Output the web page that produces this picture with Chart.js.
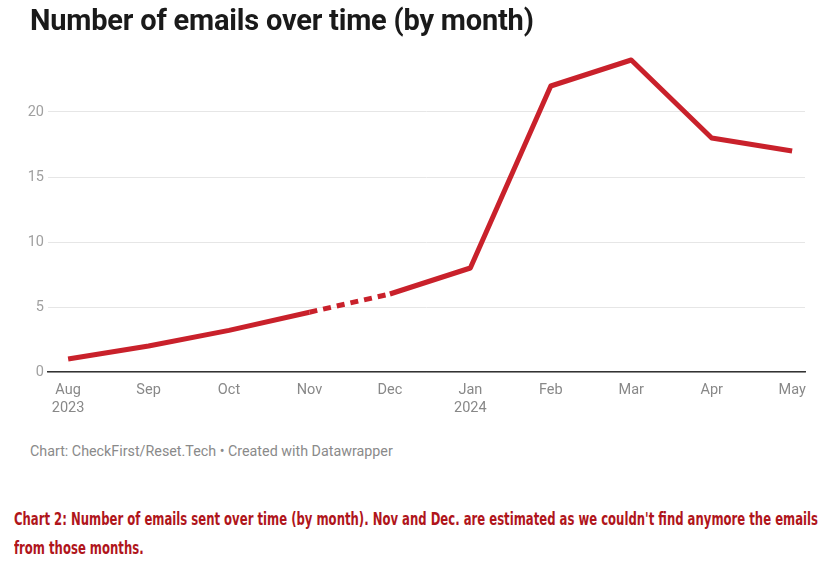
<!DOCTYPE html>
<html>
<head>
<meta charset="utf-8">
<script src="https://cdn.jsdelivr.net/npm/chart.js@4"></script>
<style>
  html, body { margin: 0; padding: 0; background: #fff; }
  body { width: 835px; height: 574px; position: relative; overflow: hidden; font-family: Roboto, "Noto Sans", sans-serif; }
  #title { position: absolute; left: 30px; top: 3px; font-size: 29px; font-weight: 700; color: #1a1a1a; white-space: nowrap; letter-spacing: -0.2px; }
  #wrap { position: absolute; left: 0; top: 0; width: 835px; height: 430px; }
  #credit { position: absolute; left: 30px; top: 443px; font-size: 14.3px; color: #8a8a8a; white-space: nowrap; }
  #caption { position: absolute; left: 14px; top: 504px; font-family: "DejaVu Sans Condensed", "Liberation Sans Narrow", sans-serif; font-weight: 700; font-size: 18px; line-height: 29px; color: #b0151b; transform-origin: 0 0; white-space: nowrap; }
  #caption span { display: block; }
</style>
</head>
<body>
<div id="wrap"><canvas id="c"></canvas></div>
<div id="title">Number of emails over time (by month)</div>
<div id="credit">Chart: CheckFirst/Reset.Tech • Created with Datawrapper</div>
<div id="caption"><span id="cap1">Chart 2: Number of emails sent over time (by month). Nov and Dec. are estimated as we couldn't find anymore the emails</span><span>from those months.</span></div>
<script>
const months = ['Aug', 'Sep', 'Oct', 'Nov', 'Dec', 'Jan', 'Feb', 'Mar', 'Apr', 'May'];
const yearLabels = ['2023', '', '', '', '', '2024', '', '', '', ''];
const emails = [1, 2, 3.2, 4.6, 6, 8, 22, 24, 18, 17];
const estimatedSegmentStart = 3; // Nov -> Dec segment is estimated
const yTicks = [0, 5, 10, 15, 20];

// fit caption first line to the reference width
(function () {
  const cap1 = document.getElementById('cap1');
  const w = cap1.getBoundingClientRect().width;
  const target = 804;
  document.getElementById('caption').style.transform = 'scaleX(' + (target / w) + ')';
})();

const points = emails.map((v, i) => ({ x: i, y: v }));

new Chart(document.getElementById('c'), {
  type: 'line',
  data: {
    datasets: [{
      data: points,
      borderColor: '#c9212b',
      borderWidth: 5,
      pointRadius: 0,
      tension: 0,
      fill: false,
      borderJoinStyle: 'round',
      segment: {
        borderDash: ctx => ctx.p0DataIndex === estimatedSegmentStart ? [8, 6] : undefined
      }
    }]
  },
  options: {
    responsive: true,
    maintainAspectRatio: false,
    animation: false,
    layout: { padding: { top: 47, right: 30, left: 0, bottom: 0 } },
    plugins: { legend: { display: false }, tooltip: { enabled: false }, title: { display: false } },
    scales: {
      x: {
        type: 'linear',
        min: -0.25,
        max: 9.16,
        afterBuildTicks: s => { s.ticks = months.map((m, i) => ({ value: i })); },
        afterFit: s => { s.height = 58; },
        ticks: {
          autoSkip: false,
          maxRotation: 0,
          padding: 10,
          color: '#888',
          font: { family: 'Roboto', size: 14.5 },
          callback: (v) => yearLabels[v] ? [months[v], yearLabels[v]] : months[v]
        },
        grid: { display: false, drawTicks: false },
        border: { display: true, color: '#333', width: 1.5 }
      },
      y: {
        min: 0,
        max: 25,
        afterBuildTicks: s => { s.ticks = yTicks.map(v => ({ value: v })); },
        afterFit: s => { s.width = 48; },
        ticks: {
          padding: 4,
          color: '#a0a0a0',
          font: { family: 'Roboto', size: 14.5 }
        },
        grid: { color: '#e6e6e6', lineWidth: 1, drawTicks: false },
        border: { display: false }
      }
    }
  }
});
</script>
</body>
</html>
